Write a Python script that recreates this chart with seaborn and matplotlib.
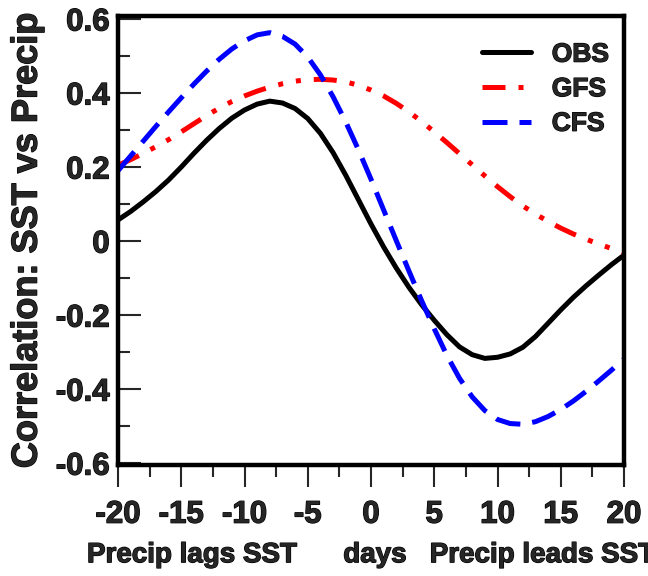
import numpy as np
import pandas as pd
import matplotlib
matplotlib.use("Agg")
import matplotlib.pyplot as plt
import matplotlib.patheffects as pe
from matplotlib.ticker import MultipleLocator
import seaborn as sns

# Lag (days): negative = precipitation lags SST, positive = precipitation leads SST
lags = list(range(-20, 21))

obs = [0.057, 0.080, 0.106, 0.134, 0.165, 0.200, 0.237, 0.272, 0.304, 0.332,
       0.354, 0.370, 0.378, 0.373, 0.358, 0.331, 0.291, 0.239, 0.178, 0.112,
       0.046, -0.016, -0.073, -0.125, -0.172, -0.214, -0.253, -0.286, -0.307, -0.317,
       -0.314, -0.305, -0.287, -0.258, -0.222, -0.186, -0.152, -0.121, -0.092, -0.064,
       -0.038]

gfs = [0.205, 0.220, 0.237, 0.255, 0.274, 0.295, 0.317, 0.339, 0.359, 0.377,
       0.392, 0.405, 0.416, 0.425, 0.432, 0.436, 0.437, 0.435, 0.430, 0.421,
       0.408, 0.392, 0.372, 0.349, 0.323, 0.295, 0.266, 0.236, 0.206, 0.176,
       0.147, 0.120, 0.095, 0.073, 0.053, 0.035, 0.019, 0.005, -0.008, -0.020,
       -0.031]

cfs = [0.190, 0.230, 0.270, 0.310, 0.349, 0.387, 0.424, 0.459, 0.491, 0.519,
       0.541, 0.557, 0.563, 0.553, 0.532, 0.497, 0.449, 0.390, 0.322, 0.247,
       0.167, 0.084, 0.001, -0.081, -0.161, -0.237, -0.309, -0.371, -0.421, -0.458,
       -0.482, -0.493, -0.495, -0.488, -0.474, -0.455, -0.432, -0.406, -0.378, -0.349,
       -0.319]

models = ["OBS", "GFS", "CFS"]
xticks = [-20, -15, -10, -5, 0, 5, 10, 15, 20]
xticklabels = ["-20", "-15", "-10", "-5", "0", "5", "10", "15", "20"]
yticks = [-0.6, -0.4, -0.2, 0.0, 0.2, 0.4, 0.6]
yticklabels = ["-0.6", "-0.4", "-0.2", "0", "0.2", "0.4", "0.6"]

df = pd.concat([
    pd.DataFrame({"lag": lags, "corr": vals, "model": name})
    for name, vals in zip(models, [obs, gfs, cfs])
], ignore_index=True)

sns.set_theme(style="white")
plt.rcParams["font.family"] = ["Liberation Sans", "DejaVu Sans"]
plt.rcParams["font.weight"] = "bold"
plt.rcParams["axes.unicode_minus"] = False

fig = plt.figure(figsize=(6.48, 5.76), dpi=100)
ax = fig.add_axes([118 / 648, 1 - 465 / 576, 506 / 648, 449 / 576])

palette = {"OBS": "#000000", "GFS": "#ff0000", "CFS": "#0000ff"}
dashes = {"OBS": "", "GFS": (4.6, 2.6, 1.0, 2.6, 1.0, 2.6), "CFS": (5.0, 2.4)}

sns.lineplot(data=df, x="lag", y="corr", hue="model", style="model",
             hue_order=models, style_order=models, palette=palette,
             dashes=dashes, linewidth=3.6, legend=False, ax=ax)

ax.set_xlim(-20, 20)
ax.set_ylim(-0.605, 0.608)

for side in ["left", "right", "top", "bottom"]:
    ax.spines[side].set_linewidth(3.2)
    ax.spines[side].set_color("black")

ax.set_xticks(xticks, xticklabels)
ax.set_yticks(yticks, yticklabels)
ax.xaxis.set_minor_locator(MultipleLocator(2.5))
ax.yaxis.set_minor_locator(MultipleLocator(0.1))

ax.tick_params(axis="x", which="major", direction="out", length=16, width=1.5,
               pad=9, labelsize=22.5, bottom=True, top=False)
ax.tick_params(axis="x", which="minor", direction="out", length=8.5, width=1.5,
               bottom=True, top=False)
ax.tick_params(axis="y", which="major", direction="in", length=16.5, width=1.5,
               pad=6, labelsize=22.5, left=True, right=False)
ax.tick_params(axis="y", which="minor", direction="in", length=8.5, width=1.5,
               left=True, right=False)

heavy = [pe.withStroke(linewidth=0.9, foreground="black")]
for lab in ax.get_xticklabels() + ax.get_yticklabels():
    lab.set_fontweight("bold")
    lab.set_path_effects(heavy)

ax.set_xlabel("Precip lags SST      days   Precip leads SST",
              fontsize=20, fontweight="bold", labelpad=9, path_effects=heavy)
ax.set_ylabel("Correlation: SST vs Precip", fontsize=26, fontweight="bold",
              labelpad=8, path_effects=heavy)

leg = ax.legend(ax.get_lines()[:3], models, loc="upper left",
                bbox_to_anchor=(0.693, 0.97), frameon=False, borderpad=0,
                handlelength=1.85, handletextpad=0.8, labelspacing=0.4,
                prop={"size": 19, "weight": "bold"})
for txt in leg.get_texts():
    txt.set_path_effects(heavy)

fig.savefig("out.png", dpi=100)
